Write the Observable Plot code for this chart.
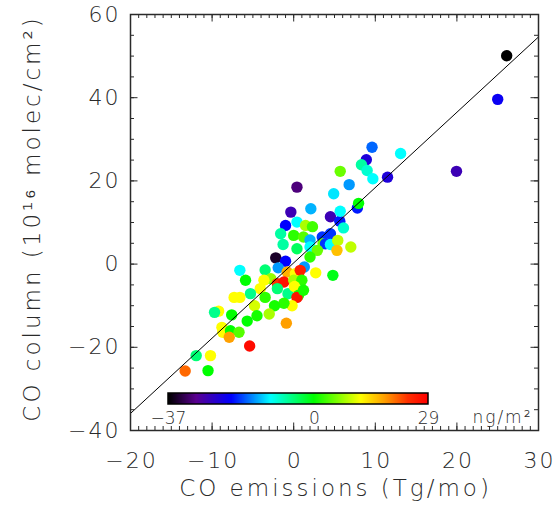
<!DOCTYPE html>
<html><head><meta charset="utf-8">
<script src="https://cdn.jsdelivr.net/npm/d3@7"></script>
<script src="https://cdn.jsdelivr.net/npm/@observablehq/plot@0.6"></script>
<style>
body{margin:0;background:#fff;}
#wrap{position:relative;width:557px;height:512px;overflow:hidden;}
#wrap svg{display:block}
#legend{position:absolute;left:138px;top:391px;}
</style></head><body><div id="wrap"></div>
<script>
// CO emissions anomaly (Tg/mo)
const emissions = [9.6,13.1,8.9,8.3,9.0,9.7,11.5,5.7,0.4,6.8,4.9,7.8,7.95,-0.35,2.1,4.5,5.65,5.7,6.1,-1.0,0.4,1.45,2.3,-1.6,0.0,1.2,-1.3,0.4,2.0,2.0,3.5,4.5,3.6,3.9,4.5,5.4,5.3,7.0,2.9,2.0,-2.2,-1.0,-1.9,1.3,2.7,4.8,-6.6,-3.5,-5.9,-0.8,0.2,-2.8,-2.0,-1.2,0.0,0.8,1.0,-4.1,-5.3,-3.5,-2.0,-0.7,0.1,0.6,0.4,1.2,-0.2,-1.2,-2.35,-3.0,-4.8,-7.3,-6.6,-9.2,-9.7,-7.6,-4.5,-5.7,-8.8,-8.7,-7.75,-6.7,-7.9,-5.4,-0.9,-11.95,-10.2,-13.3,-10.5,26.1,25.0,19.95,-3.65];
// CO column anomaly (1e16 molec/cm2)
const coColumn = [28.1,26.6,25.1,23.9,22.5,20.5,20.9,22.3,18.5,19.1,16.9,13.5,14.6,12.5,13.3,11.4,10.3,12.7,8.7,9.3,10.1,9.3,9.0,7.3,6.9,6.5,4.7,3.7,5.8,4.1,6.5,7.3,4.9,4.9,4.7,5.7,3.3,4.1,3.3,1.7,1.5,0.7,-0.9,-0.7,-2.1,-2.7,-1.5,-1.4,-3.9,-1.9,-2.3,-3.5,-4.7,-4.3,-3.9,-1.5,-3.9,-5.9,-7.1,-8.0,-5.9,-7.1,-5.4,-7.5,-8.0,-6.3,-10.0,-9.4,-10.0,-12.0,-10.0,-8.0,-8.0,-11.3,-11.6,-12.2,-12.4,-13.7,-15.2,-16.4,-16.0,-16.4,-17.6,-19.7,-14.2,-22.0,-22.0,-25.7,-25.6,50.1,39.6,22.3,-3.9];
// colour variable (ng/m2)
const colourVal = [-17,-11,-24,-7,-9,-11,-24,5,-31,-15,-12,-20,0,-27,-14,-27,-20,-11,-9,-21,-11,8,3,-7,2,4,-7,-4,-14,-11,-19,-19,5,-19,-11,9,16,9,5,2,-35,-21,-15,-15,12,-1,-11,-5,0,17,12,7,24,27,8,26,2,12,-6,2,-5,-6,12,1,27,1,12,2,1,8,10,12,12,12,-6,0,1,0,12,12,0,4,18,28,18,-5,12,21,0,-37,-22,-27,12];

const xTicks = [-20,-10,0,10,20,30];
const yTicks = [-40,-20,0,20,40,60];
const cbTicks = [-37,0,29];
const cbDomain = [-37,29];
const cbUnit = "ng/m²";
const fitSlope = 1.81, fitIntercept = 0.3;
const fitX = [-20, 30];
const xTitle = "CO emissions (Tg/mo)";
const yTitle = "CO column (10¹⁶ molec/cm²)";
const stopVals = [-37,-30,-21,-11,0,12,18,24,29];
const stopCols = ["#000000","#5a0090","#0000ff","#00ffff","#00ff00","#ffff00","#ffa000","#ff3000","#ff0000"];

const FONT = "'DejaVu Sans', sans-serif";
const WEIGHT = 200;
const INK = "#2a2a2a";
const fmt = d => d < 0 ? "\u2212" + Math.abs(d) : String(d);

const frac = stopVals.map(v => (v - cbDomain[0]) / (cbDomain[1] - cbDomain[0]));
const interp = d3.scaleLinear().domain(frac).range(stopCols).interpolate(d3.interpolateRgb).clamp(true);
const colorSpec = {type: "linear", domain: cbDomain, interpolate: t => interp(t)};

const data = emissions.map((x, i) => ({x, y: coColumn[i], c: colourVal[i]}));
const fit = fitX.map(x => ({x, y: fitSlope * x + fitIntercept}));
const minorX = d3.range(-20, 30.01, 1);
const minorY = d3.range(-40, 60.01, 5);

const chart = Plot.plot({
  width: 557, height: 512,
  marginLeft: 130, marginRight: 19, marginTop: 14, marginBottom: 82,
  x: {domain: [-20, 30], axis: null},
  y: {domain: [-40, 60], axis: null},
  color: colorSpec,
  style: {fontFamily: FONT, background: "white", color: INK},
  marks: [
    Plot.dot(data, {x: "x", y: "y", fill: "c", r: 5.7}),
    Plot.line(fit, {x: "x", y: "y", stroke: "black", strokeWidth: 1, clip: true}),
    Plot.ruleX(minorX, {x: d => d, y1: -40, y2: -40, insetBottom: 4, stroke: INK}),
    Plot.ruleX(xTicks, {x: d => d, y1: -40, y2: -40, insetBottom: 7.5, stroke: INK}),
    Plot.ruleX(minorX, {x: d => d, y1: 60, y2: 60, insetTop: 4, stroke: INK}),
    Plot.ruleX(xTicks, {x: d => d, y1: 60, y2: 60, insetTop: 7.5, stroke: INK}),
    Plot.ruleY(minorY, {y: d => d, x1: -20, x2: -20, insetLeft: 4, stroke: INK}),
    Plot.ruleY(yTicks, {y: d => d, x1: -20, x2: -20, insetLeft: 7.5, stroke: INK}),
    Plot.ruleY(minorY, {y: d => d, x1: 30, x2: 30, insetRight: 4, stroke: INK}),
    Plot.ruleY(yTicks, {y: d => d, x1: 30, x2: 30, insetRight: 7.5, stroke: INK}),
    Plot.frame({stroke: INK, strokeWidth: 1.5}),
    Plot.text(xTicks, {x: d => d, frameAnchor: "bottom", lineAnchor: "top", dy: 22, dx: 1, text: fmt, fontSize: 22, fontWeight: WEIGHT, fill: INK}),
    Plot.text(yTicks, {y: d => d, frameAnchor: "left", textAnchor: "end", dx: -10, text: fmt, fontSize: 22, fontWeight: WEIGHT, fill: INK}),
    Plot.text([xTitle], {frameAnchor: "bottom", dy: 65, dx: 1, fontSize: 23, fontWeight: WEIGHT, fill: INK}),
    Plot.text([yTitle], {frameAnchor: "left", textAnchor: "middle", dx: -98, dy: -4, rotate: -90, fontSize: 23, fontWeight: WEIGHT, fill: INK}),
    Plot.text([cbUnit], {frameAnchor: "bottom-right", textAnchor: "end", dx: -6, dy: -8, fontSize: 17, fontWeight: WEIGHT, fill: INK})
  ]
});
document.getElementById("wrap").appendChild(chart);

const tickStrs = new Set([...xTicks, ...yTicks].map(fmt));
d3.select(chart).selectAll("text").each(function () {
  const t = this.textContent;
  if (tickStrs.has(t)) this.style.letterSpacing = "2px";
  else if (t === xTitle || t === yTitle) this.style.letterSpacing = "3px";
  else if (t === cbUnit) this.style.letterSpacing = "2px";
});

const legend = Plot.legend({
  color: colorSpec,
  width: 320, marginLeft: 30, marginRight: 30,
  marginTop: 2, height: 43, marginBottom: 30,
  ticks: cbTicks, tickSize: 5, tickFormat: fmt, label: null
});
legend.id = "legend";
legend.style.background = "transparent";
legend.style.color = INK;
legend.style.overflow = "visible";
const lg = d3.select(legend);
lg.selectAll(".tick line").remove();
lg.selectAll("text").style("font-size", "17px").style("font-family", FONT).style("font-weight", WEIGHT).attr("fill", INK);
lg.append("rect").attr("x", 30).attr("y", 2).attr("width", 260).attr("height", 11)
  .attr("fill", "none").attr("stroke", "black").attr("stroke-width", 1.5);
document.getElementById("wrap").appendChild(legend);
</script></body></html>
